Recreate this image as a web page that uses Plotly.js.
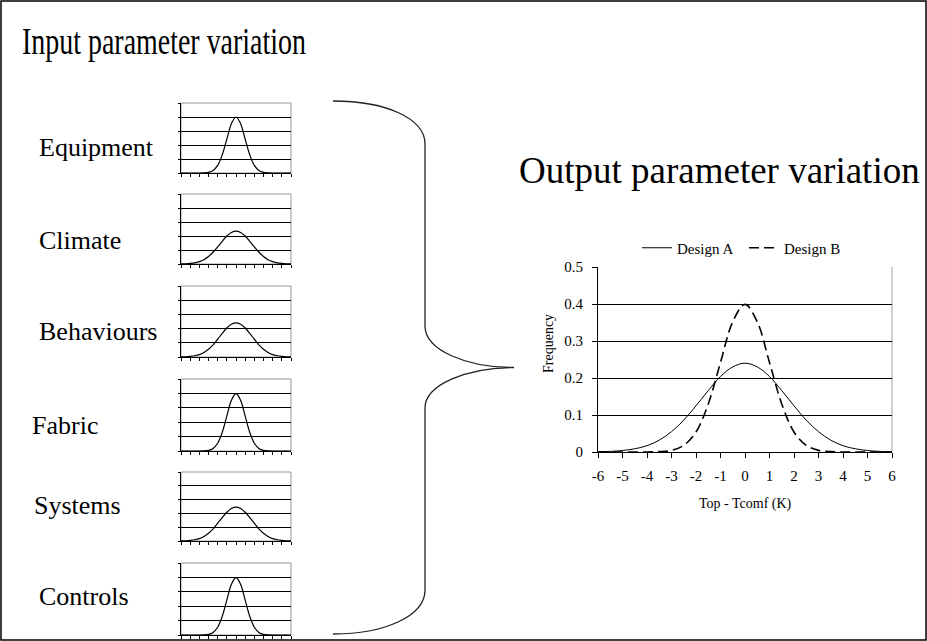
<!DOCTYPE html>
<html><head><meta charset="utf-8">
<script src="https://cdn.plot.ly/plotly-3.0.1.min.js"></script>
<style>html,body{margin:0;padding:0;background:#fff}</style>
</head><body><div id="chart" style="width:927px;height:641px"></div>
<script>
// ---- data ----
const xValues = [-6,-5.5,-5,-4.5,-4,-3.5,-3,-2.5,-2,-1.5,-1,-0.5,0,0.5,1,1.5,2,2.5,3,3.5,4,4.5,5,5.5,6];
const designA = [0.0007,0.0017,0.004,0.0087,0.017,0.032,0.055,0.086,0.125,0.166,0.204,0.230,0.240,0.230,0.204,0.166,0.125,0.086,0.055,0.032,0.017,0.0087,0.004,0.0017,0.0007];
const designB = [0,0,0,0,0.0001,0.0009,0.0044,0.018,0.054,0.130,0.242,0.352,0.399,0.352,0.242,0.130,0.054,0.018,0.0044,0.0009,0.0001,0,0,0,0];

const inputNames = ["Equipment","Climate","Behaviours","Fabric","Systems","Controls"];
const equipment  = [0,0,0,0,0.0001,0.0009,0.0044,0.018,0.054,0.130,0.242,0.352,0.400,0.352,0.242,0.130,0.054,0.018,0.0044,0.0009,0.0001,0,0,0,0];
const climate    = [0.0007,0.0017,0.004,0.0085,0.017,0.031,0.054,0.084,0.122,0.162,0.200,0.225,0.235,0.225,0.200,0.162,0.122,0.084,0.054,0.031,0.017,0.0085,0.004,0.0017,0.0007];
const behaviours = [0.0007,0.0017,0.004,0.0087,0.017,0.032,0.055,0.086,0.125,0.166,0.204,0.230,0.240,0.230,0.204,0.166,0.125,0.086,0.055,0.032,0.017,0.0087,0.004,0.0017,0.0007];
const fabric     = [0,0,0,0,0.0001,0.0009,0.0044,0.018,0.054,0.130,0.242,0.352,0.398,0.352,0.242,0.130,0.054,0.018,0.0044,0.0009,0.0001,0,0,0,0];
const systems    = [0.0007,0.0017,0.004,0.0089,0.0175,0.033,0.056,0.088,0.128,0.170,0.208,0.235,0.245,0.235,0.208,0.170,0.128,0.088,0.056,0.033,0.0175,0.0089,0.004,0.0017,0.0007];
const controls   = [0,0,0,0,0.0001,0.0009,0.0044,0.018,0.054,0.130,0.242,0.352,0.398,0.352,0.242,0.130,0.054,0.018,0.0044,0.0009,0.0001,0,0,0,0];
const inputSeries = [equipment, climate, behaviours, fabric, systems, controls];

const xTickVals = [-6,-5,-4,-3,-2,-1,0,1,2,3,4,5,6];
const yTickVals = [0,0.1,0.2,0.3,0.4,0.5];
const yTickText = ["0","0.1","0.2","0.3","0.4","0.5"];
const yGridVals = [0.1,0.2,0.3,0.4];

// ---- layout helpers (pixel -> paper) ----
const W = 927, H = 641;
const px = v => v / W;
const py = v => 1 - v / H;
const FONT = "Liberation Serif, Times New Roman, serif";

const smallLeft = 181, smallRight = 291;
const smallTops = [103,194,286,379,472,563];
const smallBottoms = [173,264,357,451,541,635];
const labelX = [37,37,37,30,32,37];
const labelY = [147,240,331,425,505,596];

const legendBase = {orientation: "h", y: py(248), xanchor: "left", yanchor: "middle",
  font: {family: FONT, size: 15, color: "#000"}, bgcolor: "rgba(0,0,0,0)", itemwidth: 30};

const traces = [];
const layout = {
  width: W, height: H,
  margin: {l:0,r:0,t:0,b:0},
  paper_bgcolor: "#fff", plot_bgcolor: "rgba(0,0,0,0)",
  font: {family: FONT, color: "#000"},
  showlegend: true,
  legend: Object.assign({x: px(637)}, legendBase),
  legend2: Object.assign({x: px(744)}, legendBase),
  shapes: [], annotations: []
};

// empty helper trace so that a grid-only overlay axis gets drawn
const gridHolder = (xa, ya) => ({x: [], y: [], type: "scatter", mode: "lines", showlegend: false,
  hoverinfo: "skip", xaxis: xa, yaxis: ya});

// main chart
traces.push({x: xValues, y: designA, type: "scatter", mode: "lines", name: "Design A", legend: "legend",
  line: {color: "#000", width: 1, shape: "spline", smoothing: 1}, xaxis: "x", yaxis: "y"});
traces.push({x: xValues, y: designB, type: "scatter", mode: "lines", name: "Design B", legend: "legend2",
  line: {color: "#000", width: 1.6, dash: "10px,5px", shape: "spline", smoothing: 1}, xaxis: "x", yaxis: "y"});
traces.push(gridHolder("x", "y8"));

layout.xaxis = {domain: [px(598), px(892)], anchor: "y", range: [-6,6], tickvals: xTickVals,
  ticktext: xTickVals.map(String), ticks: "outside", ticklen: 5, tickcolor: "#000", tickwidth: 1,
  showline: true, linecolor: "#000", linewidth: 1, showgrid: false, zeroline: false,
  tickfont: {family: FONT, size: 15, color: "#000"}, ticklabelstandoff: 5, fixedrange: true};
layout.yaxis = {domain: [py(452), py(267)], anchor: "x", range: [0,0.5], tickvals: yTickVals,
  ticktext: yTickText, ticks: "outside", ticklen: 5, tickcolor: "#000", tickwidth: 1,
  showline: true, linecolor: "#000", linewidth: 1, showgrid: false, zeroline: false,
  tickfont: {family: FONT, size: 15, color: "#000"}, ticklabelstandoff: 6, fixedrange: true};
layout.yaxis8 = {domain: [py(452), py(267)], anchor: "x", overlaying: "y", range: [0,0.5],
  tickvals: yGridVals, showticklabels: false, ticks: "", showgrid: true, gridcolor: "#000",
  gridwidth: 1, showline: false, zeroline: false, fixedrange: true};
layout.shapes.push({type: "line", xref: "x domain", yref: "y domain", x0: 1, x1: 1, y0: 0, y1: 1,
  line: {color: "#a0a0a0", width: 1}, layer: "below"});

// small charts
for (let i = 0; i < 6; i++) {
  const n = i + 2, g = i + 9;
  traces.push({x: xValues, y: inputSeries[i], type: "scatter", mode: "lines", name: inputNames[i],
    showlegend: false, line: {color: "#000", width: 1.2, shape: "spline", smoothing: 1},
    xaxis: "x" + n, yaxis: "y" + n});
  traces.push(gridHolder("x" + n, "y" + g));
  layout["xaxis" + n] = {domain: [px(smallLeft), px(smallRight)], anchor: "y" + n, range: [-6,6],
    tickvals: xTickVals, ticks: "outside", ticklen: 3, tickcolor: "#000", showticklabels: false,
    showline: true, linecolor: "#000", linewidth: 1, showgrid: false, zeroline: false, fixedrange: true};
  layout["yaxis" + n] = {domain: [py(smallBottoms[i]), py(smallTops[i])], anchor: "x" + n, range: [0,0.5],
    tickvals: yTickVals, ticks: "outside", ticklen: 2, tickcolor: "#000", showticklabels: false,
    showline: true, linecolor: "#000", linewidth: 1, showgrid: false, zeroline: false, fixedrange: true};
  layout["yaxis" + g] = {domain: [py(smallBottoms[i]), py(smallTops[i])], anchor: "x" + n,
    overlaying: "y" + n, range: [0,0.5], tickvals: yGridVals, showticklabels: false, ticks: "",
    showgrid: true, gridcolor: "#000", gridwidth: 1, showline: false, zeroline: false, fixedrange: true};
  layout.shapes.push({type: "rect", xref: "x" + n + " domain", yref: "y" + n + " domain",
    x0: 0, x1: 1, y0: 0, y1: 1, line: {color: "#999", width: 1}, layer: "below"});
  layout.annotations.push({text: inputNames[i], xref: "paper", yref: "paper", x: px(labelX[i]),
    y: py(labelY[i]), xanchor: "left", yanchor: "middle", showarrow: false,
    font: {family: FONT, size: 26, color: "#000"}});
}

// titles
const inputTitleIndex = layout.annotations.length;
layout.annotations.push({text: "Input parameter variation", xref: "paper", yref: "paper",
  x: px(20), y: py(41), xanchor: "left", yanchor: "middle", showarrow: false,
  font: {family: FONT, size: 38, color: "#000"}});
layout.annotations.push({text: "Output parameter variation", xref: "paper", yref: "paper",
  x: px(517), y: py(170), xanchor: "left", yanchor: "middle", showarrow: false,
  font: {family: FONT, size: 37, color: "#000"}});
layout.annotations.push({text: "Frequency", xref: "paper", yref: "paper", x: px(548), y: py(344),
  xanchor: "center", yanchor: "middle", textangle: -90, showarrow: false,
  font: {family: FONT, size: 14, color: "#000"}});
layout.annotations.push({text: "Top - Tcomf (K)", xref: "paper", yref: "paper", x: px(745), y: py(504),
  xanchor: "center", yanchor: "middle", showarrow: false,
  font: {family: FONT, size: 14, color: "#000"}});

// outer frame
layout.shapes.push({type: "rect", xref: "paper", yref: "paper", x0: px(1), x1: px(926), y0: py(640), y1: py(1),
  line: {color: "#000", width: 1.5}});

// brace (decoration), defined in pixels
const P = (x, y) => px(x).toFixed(5) + "," + py(y).toFixed(5);
const brace = "M " + P(333,101) +
  " C " + P(385,101) + " " + P(425,118) + " " + P(425,144) +
  " L " + P(425,326) +
  " C " + P(425,350) + " " + P(466,367.5) + " " + P(514,367.5) +
  " C " + P(466,367.5) + " " + P(425,385) + " " + P(425,408) +
  " L " + P(425,590) +
  " C " + P(425,616) + " " + P(385,634) + " " + P(333,634);
layout.shapes.push({type: "path", xref: "paper", yref: "paper", path: brace,
  line: {color: "#222", width: 1.3}});

Plotly.newPlot("chart", traces, layout, {staticPlot: true, displayModeBar: false}).then(gd => {
  // the reference title is set in a horizontally condensed face: squeeze it to its width
  const targetWidth = 284;
  const groups = gd.querySelectorAll(".annotation");
  const g = groups[inputTitleIndex];
  if (!g) return;
  const t = g.querySelector("text");
  if (!t) return;
  const bb = t.getBBox();
  if (!bb.width) return;
  const s = targetWidth / bb.width;
  const prev = t.getAttribute("transform") || "";
  t.setAttribute("transform", prev + " translate(" + bb.x + ",0) scale(" + s + ",1) translate(" + (-bb.x) + ",0)");
});
</script></body></html>
